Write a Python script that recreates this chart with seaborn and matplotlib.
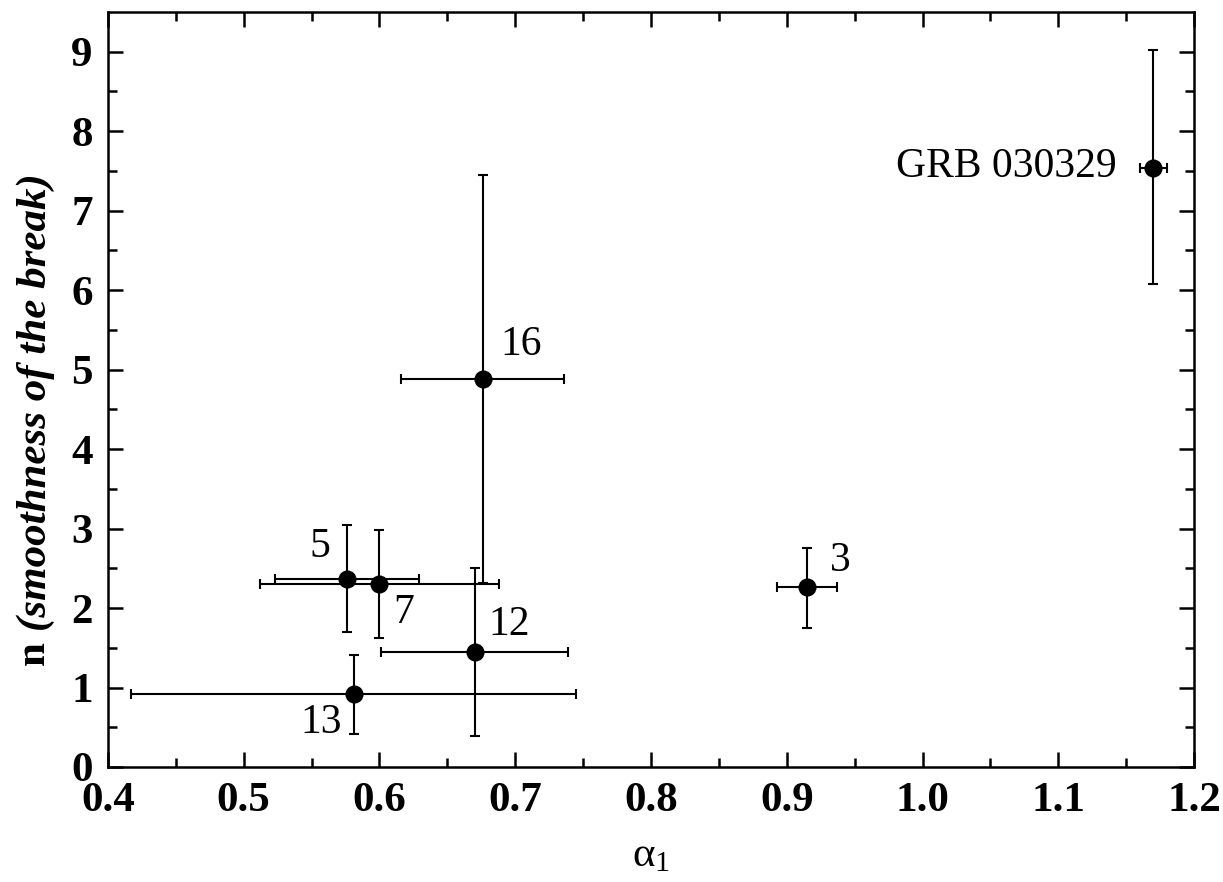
import numpy as np
import pandas as pd
import matplotlib
matplotlib.use("Agg")
import matplotlib.pyplot as plt
import seaborn as sns

# values
labels = ["GRB 030329", "3", "16", "7", "5", "12", "13"]
alpha1 = [1.170, 0.915, 0.676, 0.600, 0.576, 0.670, 0.581]
alpha1_err = [0.010, 0.022, 0.060, 0.088, 0.053, 0.069, 0.164]
n_smooth = [7.54, 2.26, 4.88, 2.30, 2.37, 1.45, 0.92]
n_err_lo = [1.46, 0.51, 2.57, 0.68, 0.67, 1.06, 0.50]
n_err_hi = [1.48, 0.50, 2.57, 0.68, 0.68, 1.05, 0.49]
# label anchor positions (data coords) and alignment
label_x = [1.143, 0.932, 0.689, 0.610, 0.5635, 0.680, 0.5723]
label_y = [7.43, 2.47, 5.18, 1.81, 2.64, 1.66, 0.43]
label_ha = ["right", "left", "left", "left", "right", "left", "right"]

df = pd.DataFrame({"alpha1": alpha1, "n": n_smooth})

sns.set_style("ticks")
plt.rcParams["font.family"] = ["Liberation Serif", "DejaVu Serif"]
plt.rcParams["text.color"] = "black"
plt.rcParams["axes.labelcolor"] = "black"
plt.rcParams["xtick.color"] = "black"
plt.rcParams["ytick.color"] = "black"
plt.rcParams["mathtext.fontset"] = "custom"
plt.rcParams["mathtext.rm"] = "Liberation Serif"
plt.rcParams["mathtext.it"] = "Liberation Serif:italic"
plt.rcParams["mathtext.bf"] = "Liberation Serif:bold"

fig = plt.figure(figsize=(12.23, 8.82), dpi=100)
ax = fig.add_axes([0.0883, 0.1304, 0.888, 0.8560])

ax.errorbar(alpha1, n_smooth, xerr=alpha1_err, yerr=[n_err_lo, n_err_hi],
            fmt="none", ecolor="black", elinewidth=1.5, capsize=3.8,
            capthick=1.5, zorder=2)
sns.scatterplot(data=df, x="alpha1", y="n", ax=ax, color="black", s=170,
                edgecolor="black", linewidth=0, zorder=3, legend=False)

for lab, lx, ly, ha in zip(labels, label_x, label_y, label_ha):
    ax.text(lx, ly, lab, ha=ha, va="baseline", fontsize=30, color="black")

ax.set_xlim(0.4, 1.2)
ax.set_ylim(0, 9.5)
ax.set_xticks(np.arange(0.4, 1.21, 0.1))
ax.set_xticklabels([f"{v:.1f}" for v in np.arange(0.4, 1.21, 0.1)])
ax.set_xticks(np.arange(0.45, 1.2, 0.1), minor=True)
ax.set_yticks(range(0, 10))
ax.set_yticks(np.arange(0.5, 9.5, 1.0), minor=True)

ax.tick_params(which="both", direction="in", top=True, right=True,
               width=1.8, color="black", labelcolor="black")
ax.tick_params(which="major", length=11, labelsize=31, pad=11)
ax.tick_params(which="minor", length=6.5)
for lbl in ax.get_xticklabels() + ax.get_yticklabels():
    lbl.set_fontweight("bold")
for sp in ax.spines.values():
    sp.set_linewidth(1.8)
    sp.set_color("black")

ax.set_xlabel(r"$\mathregular{α_1}$", fontsize=31, labelpad=12)
ax.set_ylabel("")

# y label: bold "n" followed by bold italic parenthetical
t1 = fig.text(0.029, 0.245, "n ", rotation=90, fontsize=31,
              fontweight="bold", ha="center", va="bottom")
fig.canvas.draw()
bb = t1.get_window_extent().transformed(fig.transFigure.inverted())
fig.text(0.029, bb.y1, "(smoothness of the break)", rotation=90,
         fontsize=31, fontweight="bold", fontstyle="italic",
         ha="center", va="bottom")

plt.savefig("out.png", dpi=100)
